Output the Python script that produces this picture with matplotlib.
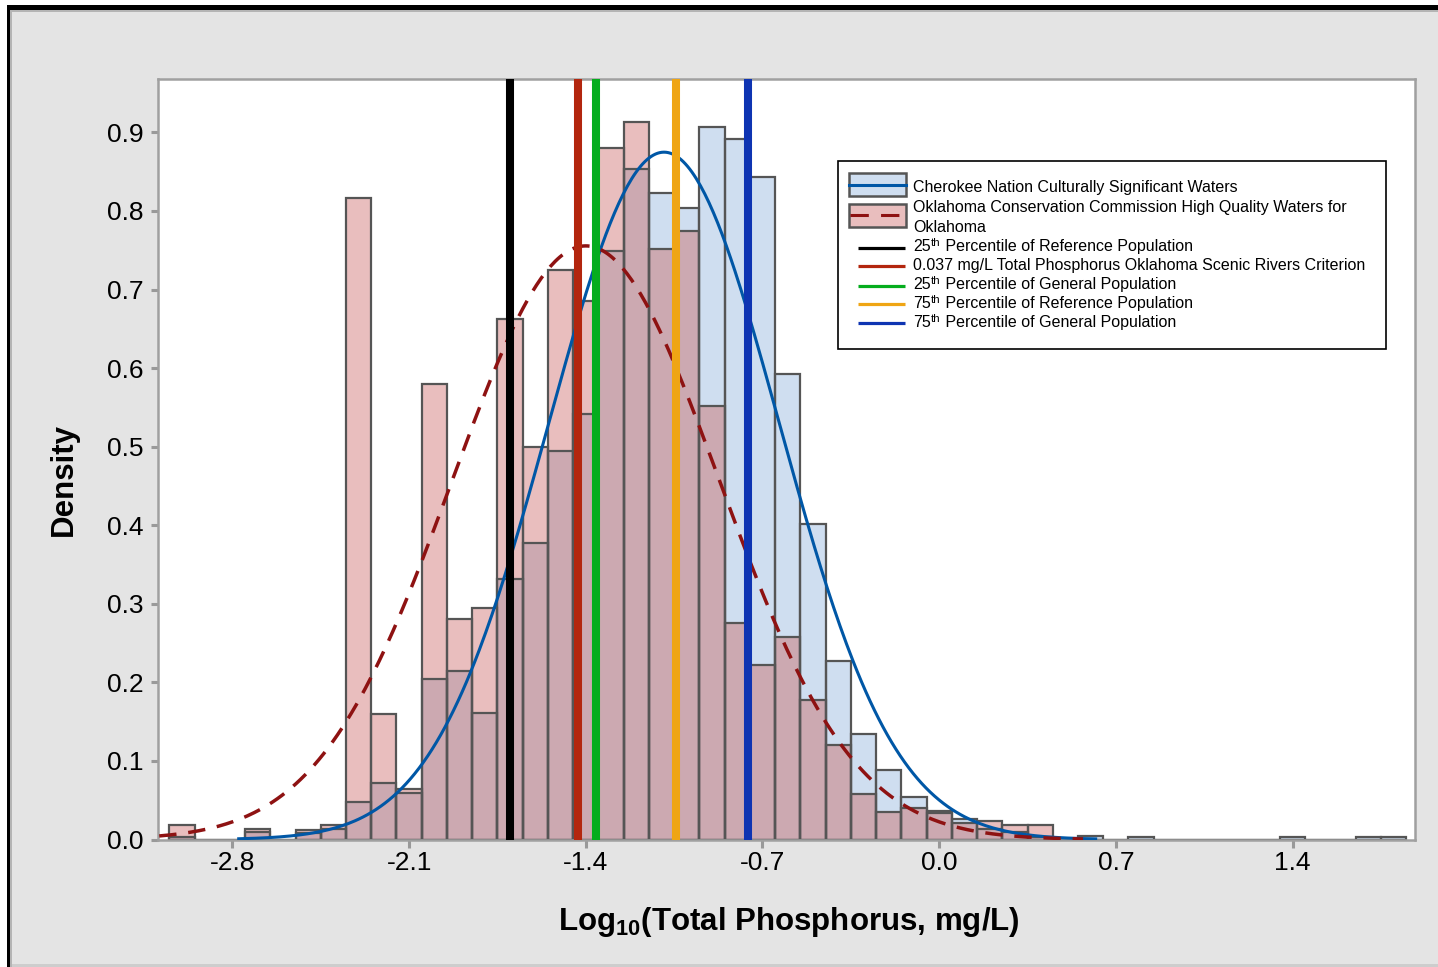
import numpy as np
import matplotlib
matplotlib.use('Agg')
import matplotlib.pyplot as plt
from matplotlib.patches import Rectangle
from matplotlib.lines import Line2D

plt.rcParams['font.family'] = ['Liberation Sans', 'DejaVu Sans']
plt.rcParams['mathtext.fontset'] = 'custom'
plt.rcParams['mathtext.rm'] = 'Liberation Sans'
plt.rcParams['mathtext.it'] = 'Liberation Sans:italic'
plt.rcParams['mathtext.bf'] = 'Liberation Sans:bold'

# ---------------- data ----------------
bin_centers = [-3.0, -2.9, -2.8, -2.7, -2.6, -2.5, -2.4, -2.3, -2.2, -2.1,
               -2.0, -1.9, -1.8, -1.7, -1.6, -1.5, -1.4, -1.3, -1.2, -1.1,
               -1.0, -0.9, -0.8, -0.7, -0.6, -0.5, -0.4, -0.3, -0.2, -0.1,
               0.0, 0.1, 0.2, 0.3, 0.4, 0.5, 0.6, 0.7, 0.8, 0.9,
               1.0, 1.1, 1.2, 1.3, 1.4, 1.5, 1.6, 1.7, 1.8]
bin_width = 0.1

# Cherokee Nation Culturally Significant Waters (density)
cherokee_density = [0.0036, 0, 0, 0.009, 0, 0.008, 0.013, 0.048, 0.0715, 0.059,
                    0.204, 0.215, 0.161, 0.332, 0.377, 0.494, 0.5415, 0.749, 0.853, 0.823,
                    0.804, 0.907, 0.892, 0.843, 0.593, 0.4015, 0.2275, 0.134, 0.089, 0.0537,
                    0.036, 0.026, 0.014, 0.010, 0.003, 0, 0.005, 0, 0.0036, 0,
                    0, 0, 0, 0, 0.0036, 0, 0, 0.0036, 0.0036]

# Oklahoma Conservation Commission High Quality Waters (density)
okcc_density = [0.018, 0, 0, 0.013, 0, 0.0125, 0.0185, 0.816, 0.160, 0.064,
                0.580, 0.281, 0.295, 0.662, 0.499, 0.725, 0.685, 0.880, 0.913, 0.751,
                0.774, 0.552, 0.276, 0.222, 0.258, 0.177, 0.120, 0.058, 0.035, 0.040,
                0.034, 0.021, 0.024, 0.0185, 0.0185, 0, 0, 0, 0, 0,
                0, 0, 0, 0, 0, 0, 0, 0, 0]

# fitted normal distributions (mean, std dev, drawn range)
cherokee_mean, cherokee_sd = -1.09, 0.456
cherokee_fit_range = (-2.775, 0.62)
okcc_mean, okcc_sd = -1.40, 0.528
okcc_fit_range = (-3.09, 0.57)

# reference lines (log10 mg/L)
ref_lines = [-1.700, -1.432, -1.358, -1.041, -0.757]
ref_line_colors = ['#000000', '#b3260e', '#05ad1e', '#efa514', '#0e34b2']
# (prefix, superscript, rest)
ref_line_labels = [('25', 'th', ' Percentile of Reference Population'),
                   ('0.037 mg/L Total Phosphorus Oklahoma Scenic Rivers Criterion', '', ''),
                   ('25', 'th', ' Percentile of General Population'),
                   ('75', 'th', ' Percentile of Reference Population'),
                   ('75', 'th', ' Percentile of General Population')]
series_labels = ['Cherokee Nation Culturally Significant Waters',
                 'Oklahoma Conservation Commission High Quality Waters for\nOklahoma']

x_ticks = [-2.8, -2.1, -1.4, -0.7, 0.0, 0.7, 1.4]
y_ticks = [0.0, 0.1, 0.2, 0.3, 0.4, 0.5, 0.6, 0.7, 0.8, 0.9]

# ---------------- styling ----------------
W, H = 1438, 967
BG = '#e4e4e4'
BLUE_FILL = '#cfdef0'
PINK_FILL = '#e9bebe'
OVER_FILL = '#cca9b1'
EDGE = '#555555'
BLUE_CURVE = '#0057a6'
RED_CURVE = '#8e1212'
SPINE = '#a0a0a0'

fig = plt.figure(figsize=(W / 100, H / 100), dpi=100, facecolor=BG)
ax_l, ax_r, ax_t, ax_b = 157.7, 1415.2, 79.0, 839.5
ax = fig.add_axes([ax_l / W, 1 - ax_b / H, (ax_r - ax_l) / W, (ax_b - ax_t) / H])
ax.set_facecolor('white')

centers = np.array(bin_centers)
cher = np.array(cherokee_density)
okcc = np.array(okcc_density)
overlap = np.minimum(cher, okcc)

# fills
ax.bar(centers, cher, width=bin_width, color=BLUE_FILL, linewidth=0, zorder=1)
ax.bar(centers, okcc, width=bin_width, color=PINK_FILL, linewidth=0, zorder=1.1)
ax.bar(centers, overlap, width=bin_width, color=OVER_FILL, linewidth=0, zorder=1.2)
# outlines
ax.bar(centers, cher, width=bin_width, facecolor='none', edgecolor=EDGE, linewidth=1.6, zorder=1.5)
ax.bar(centers, okcc, width=bin_width, facecolor='none', edgecolor=EDGE, linewidth=1.6, zorder=1.6)


def normal_pdf(x, m, s):
    return np.exp(-0.5 * ((x - m) / s) ** 2) / (s * np.sqrt(2 * np.pi))


xc = np.linspace(cherokee_fit_range[0], cherokee_fit_range[1], 400)
ax.plot(xc, normal_pdf(xc, cherokee_mean, cherokee_sd), color=BLUE_CURVE, lw=2.2, zorder=3)
xo = np.linspace(okcc_fit_range[0], okcc_fit_range[1], 400)
ax.plot(xo, normal_pdf(xo, okcc_mean, okcc_sd), color=RED_CURVE, lw=2.5,
        dashes=(5.0, 3.4), zorder=3)

for v, c in zip(ref_lines, ref_line_colors):
    ax.axvline(v, color=c, lw=5.8, zorder=4, solid_capstyle='butt')

ax.set_xlim(-3.096, 1.886)
ax.set_ylim(0, 0.968)
ax.set_xticks(x_ticks)
ax.set_xticklabels([f'{t:.1f}' for t in x_ticks])
ax.set_yticks(y_ticks)
ax.set_yticklabels([f'{t:.1f}' for t in y_ticks])
ax.tick_params(axis='both', direction='out', length=5.4, width=2.2, color='#999999',
               labelsize=19, labelcolor='black')
ax.tick_params(axis='x', pad=3)
ax.tick_params(axis='y', pad=4.5)
for s in ax.spines.values():
    s.set_color(SPINE)
    s.set_linewidth(1.8)

fig.text(64 / W, 1 - 480 / H, 'Density', rotation=90, fontsize=22.5, fontweight='bold',
         ha='center', va='center')
fig.text(788.5 / W, 1 - 930 / H, r'Log$_{\mathbf{10}}$(Total Phosphorus, mg/L)',
         fontsize=22.5, fontweight='bold', ha='center', va='baseline')

# ---------------- overlay (legend + frame border) in pixel space ----------------
lax = fig.add_axes([0, 0, 1, 1], zorder=10)
lax.set_xlim(0, W)
lax.set_ylim(H, 0)
lax.axis('off')

# outer border
lax.add_patch(Rectangle((0, 0), W, 5, facecolor='white', edgecolor='none'))
lax.add_patch(Rectangle((0, 0), 6.7, H, facecolor='white', edgecolor='none'))
lax.add_patch(Rectangle((6.7, 5), W, 5.3, facecolor='black', edgecolor='none'))
lax.add_patch(Rectangle((6.7, 5), 3.5, H, facecolor='black', edgecolor='none'))
lax.add_patch(Rectangle((10.2, 10.3), W, 2.2, facecolor='#b4b4b4', edgecolor='none'))
lax.add_patch(Rectangle((10.2, 10.3), 1.6, H, facecolor='#b4b4b4', edgecolor='none'))
lax.add_patch(Rectangle((11.8, 964), W, 3, facecolor='#cdcdcd', edgecolor='none'))

# legend box
lax.add_patch(Rectangle((838, 161), 548, 188, facecolor='white', edgecolor='black', lw=1.2))
# series handles
lax.add_patch(Rectangle((848.5, 173), 57, 23, facecolor=BLUE_FILL, edgecolor=EDGE, lw=1.8))
lax.add_line(Line2D([848.5, 905.5], [184.5, 184.5], color=BLUE_CURVE, lw=2.2))
lax.add_patch(Rectangle((848.5, 203.5), 57, 23, facecolor=PINK_FILL, edgecolor=EDGE, lw=1.8))
lax.add_line(Line2D([850, 905.5], [215, 215], color=RED_CURVE, lw=2.2, dashes=(6, 4)))

leg_fs = 11.5
lax.text(913, 192.3, series_labels[0], fontsize=leg_fs, va='baseline', ha='left')
lax.text(913, 212.0, series_labels[1].split('\n')[0], fontsize=leg_fs, va='baseline', ha='left')
lax.text(913, 231.7, series_labels[1].split('\n')[1], fontsize=leg_fs, va='baseline', ha='left')


def label_with_sup(x, y, prefix, sup, rest, fs):
    t1 = lax.text(x, y, prefix, fontsize=fs, va='baseline', ha='left')
    if not sup:
        return
    t2 = lax.annotate(sup, xy=(1, 1), xycoords=t1, xytext=(0.2, 0.8),
                      textcoords='offset points', fontsize=fs * 0.72,
                      va='top', ha='left')
    lax.annotate(rest, xy=(1, 0), xycoords=(t2, t1), xytext=(0, 0),
                 textcoords='offset points', fontsize=fs, va='bottom', ha='left')


line_y = [248.0, 266.3, 285.5, 304.0, 323.0]
text_y = [251.0, 270.0, 289.0, 308.0, 326.7]
for ly, ty, c, lab in zip(line_y, text_y, ref_line_colors, ref_line_labels):
    lax.add_line(Line2D([857.5, 904.5], [ly, ly], color=c, lw=2.3, solid_capstyle='butt'))
    label_with_sup(913, ty, lab[0], lab[1], lab[2], leg_fs)

fig.savefig('out.png', dpi=100, facecolor=BG)
